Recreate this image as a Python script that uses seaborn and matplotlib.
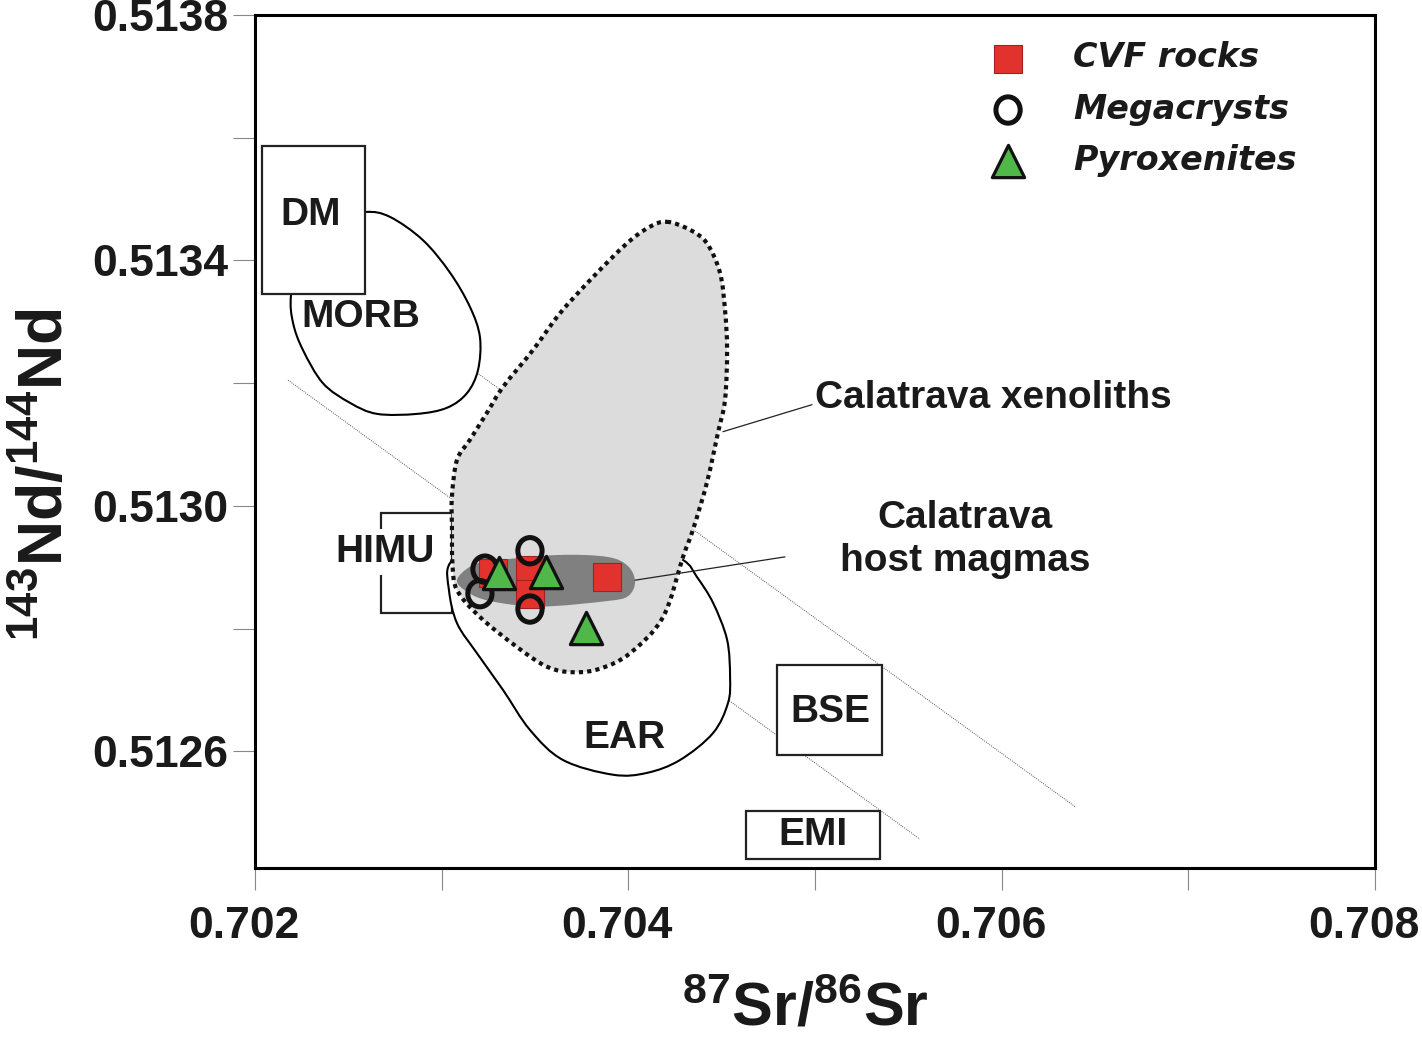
import numpy as np
import matplotlib
matplotlib.use("Agg")
import matplotlib.pyplot as plt
import seaborn as sns
from matplotlib.path import Path
from matplotlib.patches import PathPatch, Rectangle
from matplotlib.markers import MarkerStyle
from matplotlib.transforms import Affine2D, ScaledTranslation
from matplotlib.ticker import FixedLocator, FixedFormatter
from matplotlib.font_manager import FontProperties

# ---------------- data ----------------
# CVF rocks (red squares)
CVF_SR = [0.703275, 0.703473, 0.703473, 0.703886]
CVF_ND = [0.512891, 0.512896, 0.512857, 0.512884]
# Megacrysts (open circles)
MEGA_SR = [0.703232, 0.703205, 0.703473, 0.703473]
MEGA_ND = [0.512897, 0.512857, 0.512927, 0.512832]
# Pyroxenites (green triangles)
PYX_SR = [0.703307, 0.703559, 0.703773]
PYX_ND = [0.512891, 0.512892, 0.512801]

# Field outlines
XEN_X = [0.704207, 0.704330, 0.704421, 0.704491, 0.704518, 0.704529, 0.704518, 0.704480,
         0.704421, 0.704346, 0.704293, 0.704186, 0.704009, 0.703850, 0.703704, 0.703564,
         0.703404, 0.703205, 0.703082, 0.703058, 0.703055, 0.703055, 0.703082, 0.703152,
         0.703243, 0.703329, 0.703489, 0.703634, 0.703811, 0.703993, 0.704116]
XEN_Y = [0.513463, 0.513450, 0.513428, 0.513380, 0.513319, 0.513254, 0.513173, 0.513119,
         0.513038, 0.512961, 0.512917, 0.512819, 0.512760, 0.512735, 0.512729, 0.512738,
         0.512770, 0.512819, 0.512863, 0.512905, 0.512966, 0.513015, 0.513075, 0.513108,
         0.513152, 0.513194, 0.513254, 0.513314, 0.513373, 0.513428, 0.513455]

MORB_X = [0.702589, 0.702723, 0.702900, 0.703045, 0.703152, 0.703205, 0.703195, 0.703136,
          0.703029, 0.702868, 0.702654, 0.702509, 0.702364, 0.702257, 0.702204, 0.702193,
          0.702241, 0.702402]
MORB_Y = [0.513479, 0.513471, 0.513433, 0.513380, 0.513324, 0.513275, 0.513222, 0.513184,
          0.513160, 0.513150, 0.513150, 0.513168, 0.513200, 0.513254, 0.513298, 0.513344,
          0.513417, 0.513466]

EAR_X = [0.703045, 0.703039, 0.703082, 0.703189, 0.703329, 0.703473, 0.703650, 0.703918,
         0.704100, 0.704277, 0.704454, 0.704534, 0.704545, 0.704529, 0.704454, 0.704368,
         0.704293, 0.704063, 0.703634, 0.703205]
EAR_Y = [0.512907, 0.512863, 0.512809, 0.512760, 0.512700, 0.512635, 0.512586, 0.512562,
         0.512565, 0.512586, 0.512630, 0.512679, 0.512721, 0.512782, 0.512842, 0.512884,
         0.512912, 0.512945, 0.512953, 0.512937]

HOST_X = [0.703082, 0.703152, 0.703259, 0.703618, 0.703886, 0.703998, 0.704036, 0.703998,
          0.703886, 0.703527, 0.703259, 0.703136]
HOST_Y = [0.512879, 0.512901, 0.512910, 0.512920, 0.512917, 0.512902, 0.512876, 0.512853,
          0.512845, 0.512836, 0.512845, 0.512860]

# Mantle end-member boxes
BOX_NAMES = ["DM", "HIMU", "BSE", "EMI"]
BOX_X0 = [0.702037, 0.702675, 0.704796, 0.704630]
BOX_X1 = [0.702589, 0.703055, 0.705359, 0.705348]
BOX_Y0 = [0.513345, 0.512826, 0.512594, 0.512425]
BOX_Y1 = [0.513587, 0.512989, 0.512741, 0.512503]
BOX_LX = [0.702300, 0.702696, 0.705080, 0.704989]
BOX_LY = [0.513474, 0.512925, 0.512664, 0.512464]

# Other labels
FIELD_LABELS = ["MORB", "EAR"]
FIELD_LX = [0.702568, 0.703982]
FIELD_LY = [0.513308, 0.512622]

# Parallel reference lines
LINE_A_X = [0.702177, 0.705562]
LINE_A_Y = [0.513205, 0.512457]
LINE_B_X = [0.703189, 0.706393]
LINE_B_Y = [0.513217, 0.512510]

# Leader lines
LEAD_XEN_X = [0.704507, 0.704984]
LEAD_XEN_Y = [0.513121, 0.513165]
LEAD_HOST_X = [0.704036, 0.704839]
LEAD_HOST_Y = [0.512879, 0.512917]

XTICKS = [0.702, 0.704, 0.706, 0.708]
XTICK_LABELS = ["0.702", "0.704", "0.706", "0.708"]
XMINOR = [0.703, 0.705, 0.707]
YTICKS = [0.5126, 0.5130, 0.5134, 0.5138]
YTICK_LABELS = ["0.5126", "0.5130", "0.5134", "0.5138"]
YMINOR = [0.5128, 0.5132, 0.5136]

# ---------------- style ----------------
sns.set_style("ticks")
plt.rcParams["font.family"] = ["Liberation Sans", "DejaVu Sans"]
plt.rcParams["mathtext.fontset"] = "custom"
plt.rcParams["mathtext.rm"] = "Liberation Sans:bold"
plt.rcParams["mathtext.it"] = "Liberation Sans:bold"
plt.rcParams["mathtext.bf"] = "Liberation Sans:bold"
plt.rcParams["mathtext.default"] = "rm"

TXT = "#1a1a1a"
RED = "#e2322e"
GREEN = "#4fb849"

fig = plt.figure(figsize=(14.22, 10.43), dpi=100)
ax = fig.add_axes([255 / 1422, 1 - 868 / 1043, 1120 / 1422, 853 / 1043])
ax.set_facecolor("white")


def smooth_path(xs, ys):
    p = np.column_stack([xs, ys])
    n = len(p)
    verts = [p[0]]
    codes = [Path.MOVETO]
    for i in range(n):
        p0, p1, p2, p3 = p[i - 1], p[i], p[(i + 1) % n], p[(i + 2) % n]
        verts += [p1 + (p2 - p0) / 6.0, p2 - (p3 - p1) / 6.0, p2]
        codes += [Path.CURVE4] * 3
    verts.append(p[0])
    codes.append(Path.CLOSEPOLY)
    return Path(verts, codes)


# reference lines
for lx, ly in [(LINE_A_X, LINE_A_Y), (LINE_B_X, LINE_B_Y)]:
    sns.lineplot(x=lx, y=ly, ax=ax, color="#555555", linewidth=0.7,
                 linestyle=(0, (1, 1.2)), sort=False, estimator=None, zorder=1)

# MORB field
ax.add_patch(PathPatch(smooth_path(MORB_X, MORB_Y), facecolor="white",
                       edgecolor="black", linewidth=1.5, zorder=2))
# boxes
for i, name in enumerate(BOX_NAMES):
    z = 1.5 if name == "HIMU" else 3
    ax.add_patch(Rectangle((BOX_X0[i], BOX_Y0[i]), BOX_X1[i] - BOX_X0[i],
                           BOX_Y1[i] - BOX_Y0[i], facecolor="white",
                           edgecolor="#222222", linewidth=1.6, zorder=z))
# EAR field
ax.add_patch(PathPatch(smooth_path(EAR_X, EAR_Y), facecolor="white",
                       edgecolor="black", linewidth=1.5, zorder=2))
# Xenolith field
xen_path = smooth_path(XEN_X, XEN_Y)
ax.add_patch(PathPatch(xen_path, facecolor="#dcdcdc", edgecolor="none", zorder=3))
ax.add_patch(PathPatch(xen_path, facecolor="none", edgecolor="#111111",
                       linewidth=3.0, linestyle=(0, (1.0, 1.0)), zorder=3.5))
# host magmas
ax.add_patch(PathPatch(smooth_path(HOST_X, HOST_Y), facecolor="#808080",
                       edgecolor="none", zorder=4))

# leaders
for lx, ly in [(LEAD_XEN_X, LEAD_XEN_Y), (LEAD_HOST_X, LEAD_HOST_Y)]:
    ax.plot(lx, ly, color="#222222", linewidth=0.9, zorder=4.2)

# samples
sns.scatterplot(x=CVF_SR, y=CVF_ND, ax=ax, marker="s", s=400, color=RED,
                edgecolor="#a52020", linewidth=0.8, zorder=5, label="CVF rocks")
circ = MarkerStyle("o", transform=Affine2D().scale(0.92, 1.0))
sns.scatterplot(x=MEGA_SR, y=MEGA_ND, ax=ax, marker=circ, s=360, facecolor="none",
                edgecolor="#111111", linewidth=3.6, zorder=6, label="Megacrysts")
sns.scatterplot(x=PYX_SR, y=PYX_ND, ax=ax, marker="^", s=540, color=GREEN,
                edgecolor="#111111", linewidth=2.3, zorder=7, label="Pyroxenites")

# labels
for i, name in enumerate(BOX_NAMES):
    kw = {}
    if name == "HIMU":
        kw["bbox"] = dict(facecolor="white", edgecolor="none", pad=4)
    ax.text(BOX_LX[i], BOX_LY[i], name, ha="center", va="center", fontsize=28,
            fontweight="bold", color=TXT, zorder=8, **kw)
for i, name in enumerate(FIELD_LABELS):
    ax.text(FIELD_LX[i], FIELD_LY[i], name, ha="center", va="center", fontsize=28,
            fontweight="bold", color=TXT, zorder=8)
ax.text(0.705, 0.513176, "Calatrava xenoliths", ha="left", va="center",
        fontsize=28, fontweight="bold", color=TXT, zorder=8)
ax.text(0.705804, 0.512945, "Calatrava\nhost magmas", ha="center", va="center",
        fontsize=28, fontweight="bold", color=TXT, linespacing=1.25, zorder=8)

# axes
ax.set_xlim(0.702, 0.708)
ax.set_ylim(0.51241, 0.5138)
ax.xaxis.set_major_locator(FixedLocator(XTICKS))
ax.xaxis.set_major_formatter(FixedFormatter(XTICK_LABELS))
ax.xaxis.set_minor_locator(FixedLocator(XMINOR))
ax.yaxis.set_major_locator(FixedLocator(YTICKS))
ax.yaxis.set_major_formatter(FixedFormatter(YTICK_LABELS))
ax.yaxis.set_minor_locator(FixedLocator(YMINOR))
ax.tick_params(which="both", direction="out", length=16, width=0.8, color="#888888")
ax.tick_params(axis="x", which="major", pad=11, labelsize=32, labelcolor=TXT)
ax.tick_params(axis="y", which="major", pad=3.5, labelsize=32, labelcolor=TXT)
shift = ScaledTranslation(-11 / 100, 0, fig.dpi_scale_trans)
for lab in ax.get_xticklabels():
    lab.set_fontweight("bold")
    lab.set_transform(lab.get_transform() + shift)
for lab in ax.get_yticklabels():
    lab.set_fontweight("bold")
for s in ax.spines.values():
    s.set_linewidth(2.2)
    s.set_color("black")
    s.set_zorder(10)

ax.set_xlabel(r"$^{87}$Sr/$^{86}$Sr", fontsize=44, fontweight="bold", color=TXT)
ax.set_ylabel(r"$^{143}$Nd/$^{144}$Nd", fontsize=45, fontweight="bold", color=TXT)
ax.xaxis.set_label_coords(0.491, -0.133)
ax.yaxis.set_label_coords(-0.160, 0.461)

handles, labels = ax.get_legend_handles_labels()
leg = ax.legend(handles, labels, loc="upper left", bbox_to_anchor=(0.6575, 0.969),
                frameon=False, borderpad=0, borderaxespad=0, handlelength=1.0,
                handletextpad=1.45, labelspacing=0.55, scatterpoints=1,
                prop=FontProperties(family="DejaVu Sans", weight="bold",
                                    style="oblique", size=24))
for t in leg.get_texts():
    t.set_color(TXT)
leg.set_zorder(11)

fig.savefig("out.png", dpi=100, facecolor="white")
